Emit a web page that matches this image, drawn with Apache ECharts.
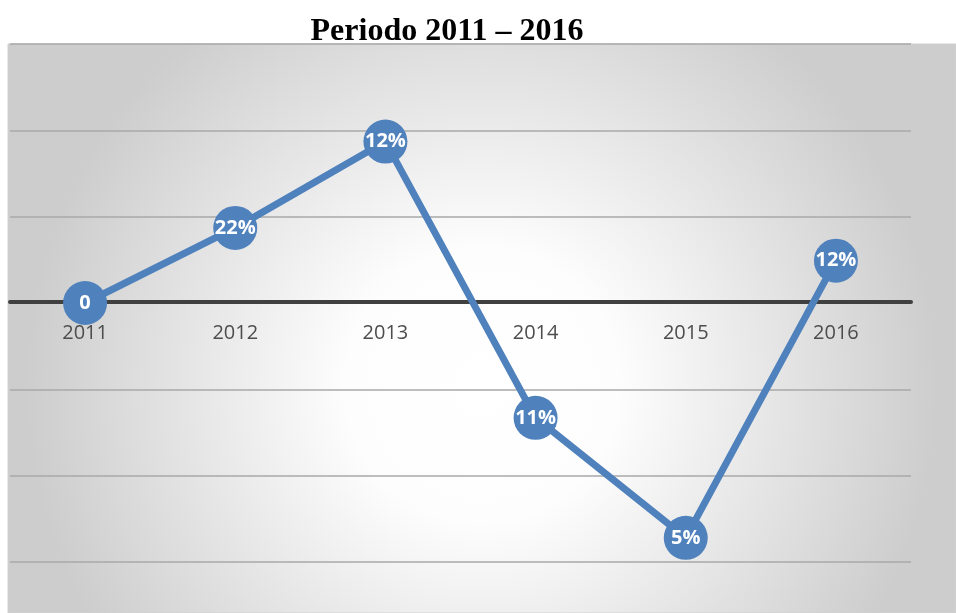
<!DOCTYPE html>
<html>
<head>
<meta charset="utf-8">
<script src="https://cdn.jsdelivr.net/npm/echarts@6/dist/echarts.min.js"></script>
<style>
  html, body { margin: 0; padding: 0; background: #fff; }
  #chart { width: 956px; height: 613px; }
</style>
</head>
<body>
<div id="chart"></div>
<script>
// datos
const years = ['2011', '2012', '2013', '2014', '2015', '2016'];
const values = [0, 0.87, 1.87, -1.33, -2.72, 0.49];
const pointLabels = ['0', '22%', '12%', '11%', '5%', '12%'];

const myChart = echarts.init(document.getElementById('chart'));

const option = {
  animation: false,
  title: {
    text: 'Periodo 2011 – 2016',
    left: 442,
    top: 11,
    textAlign: 'center',
    textStyle: {
      fontFamily: 'Liberation Serif',
      fontWeight: 'bold',
      fontSize: 32,
      color: '#000'
    }
  },
  graphic: [
    {
      type: 'rect',
      z: -10,
      shape: { x: 8, y: 44, width: 948, height: 569 },
      style: {
        fill: {
          type: 'radial', x: 0.5, y: 0.6, r: 0.8,
          colorStops: [
            { offset: 0, color: '#ffffff' },
            { offset: 0.3, color: '#fdfdfd' },
            { offset: 1, color: '#cdcdcd' }
          ]
        },
        stroke: '#d0d0d0',
        lineWidth: 1
      }
    }
  ],
  grid: {
    left: 10,
    right: 45,
    top: 44,
    bottom: 51
  },
  xAxis: {
    type: 'category',
    data: years,
    boundaryGap: true,
    position: 'bottom',
    offset: -260, // el eje se dibuja en el cero
    axisLine: { onZero: false, lineStyle: { color: '#404040', width: 4 } },
    axisTick: { show: false },
    axisLabel: {
      color: '#4d4d4d',
      fontFamily: 'Open Sans',
      fontSize: 20,
      margin: 21
    }
  },
  yAxis: {
    type: 'value',
    min: -3,
    max: 3,
    interval: 1,
    axisLabel: { show: false },
    axisLine: { show: false },
    axisTick: { show: false },
    splitLine: { lineStyle: { color: '#a8a8a8', width: 1.5 } }
  },
  series: [
    {
      type: 'line',
      data: values,
      symbol: 'circle',
      symbolSize: 44,
      itemStyle: { color: '#4f81bd' },
      lineStyle: { color: '#4f81bd', width: 7 },
      label: {
        show: true,
        position: 'inside',
        formatter: (p) => pointLabels[p.dataIndex],
        color: '#fff',
        fontFamily: 'Open Sans',
        fontWeight: 'bold',
        fontSize: 20
      },
      z: 5
    }
  ]
};

myChart.setOption(option);
</script>
</body>
</html>
